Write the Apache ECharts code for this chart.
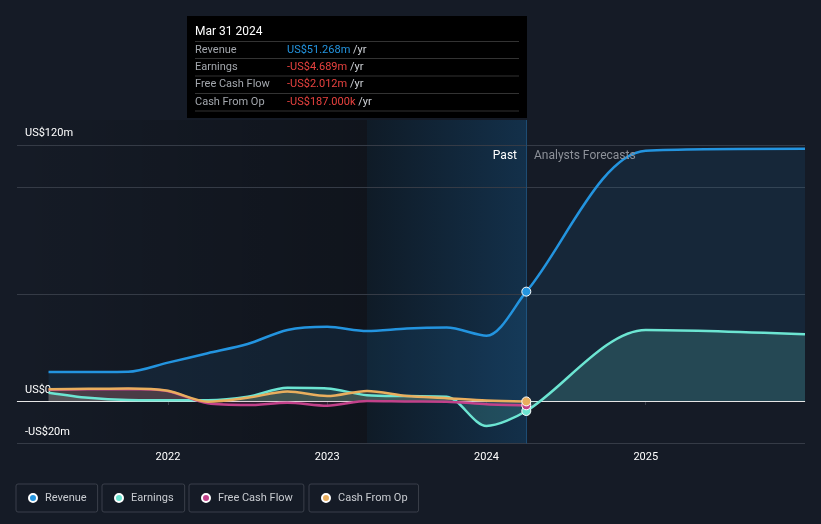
<!DOCTYPE html>
<html>
<head>
<meta charset="utf-8">
<script src="https://cdn.jsdelivr.net/npm/echarts@6/dist/echarts.min.js"></script>
<style>
html,body{margin:0;padding:0;background:#151b26;}
#c{width:821px;height:524px;}
</style>
</head>
<body>
<div id="c"></div>
<script>
// Quarter ends (decimal years), past
const pastDates = [2021.25, 2021.5, 2021.75, 2022.0, 2022.25, 2022.5, 2022.75, 2023.0, 2023.25, 2023.5, 2023.75, 2024.0, 2024.25];
// Analyst forecast points
const forecastDates = [2025.0, 2026.0];

const revenue  = [13.6, 13.6, 13.7, 18.0, 22.4, 26.7, 33.3, 34.8, 32.8, 34.0, 34.4, 30.6, 51.268, 117.3, 118.2];
const earnings = [3.9, 1.5, 0.5, 0.4, 0.4, 2.0, 6.2, 5.9, 2.7, 2.3, 2.0, -11.7, -4.689, 33.3, 31.3];
const fcf      = [5.3, 5.5, 5.6, 4.6, -1.1, -1.9, -0.8, -2.2, 0.0, -0.2, -0.3, -1.5, -2.012];
const cfo      = [5.5, 5.7, 5.9, 4.8, -0.3, 1.5, 4.4, 2.3, 4.7, 2.3, 1.3, 0.2, -0.187];

const xTicks = [2022, 2023, 2024, 2025];
const yLabels = {120: 'US$120m', 0: 'US$0', '-20': '-US$20m'};
const yLines = [120, 100, 50, -20];

const xMin = 2021.052, xMax = 2026.0;
const pastStart = 2023.25, pastEnd = 2024.25;

const colors = {rev:'#2394df', earn:'#6ce5d2', fcf:'#c2418a', cfo:'#e9ae5e'};

const allDates = pastDates.concat(forecastDates);
function build(vals){
  return vals.map((v,i)=>{
    const d = allDates[i];
    if (d === pastEnd) return {value:[d,v], symbol:'circle', symbolSize:9};
    return {value:[d,v], symbol:'none'};
  });
}

const font = 'Roboto, "Noto Sans", sans-serif';

const chart = echarts.init(document.getElementById('c'), null, {renderer:'canvas'});

function lineSeries(name, vals, color, areaAlpha){
  return {
    name, type:'line', data: build(vals), smooth:0.3,
    showSymbol:true, showAllSymbol:true,
    lineStyle:{color, width:2.5},
    itemStyle:{color, borderColor:'#ffffff', borderWidth:1},
    areaStyle:{color, opacity:areaAlpha, origin:0},
    emphasis:{disabled:true}, z:3
  };
}

const labelStyle = {color:'#ffffff', fontSize:11, fontFamily:font};

const seriesRev = lineSeries('Revenue', revenue, colors.rev, 0.1);
seriesRev.markLine = {
  silent:true, symbol:'none', z:1,
  data: yLines.map(v=>({
    yAxis:v,
    lineStyle:{color:'#353b46', width:1, type:'solid'},
    label: yLabels[v] ? Object.assign({show:true, formatter:yLabels[v], position:'insideStartTop', distance:[8,6]}, labelStyle) : {show:false}
  })).concat([
    {yAxis:0, lineStyle:{color:'#e6e6e6', width:1, type:'solid'},
     label:Object.assign({show:true, formatter:yLabels[0], position:'insideStartTop', distance:[8,5]}, labelStyle)},
    {xAxis:pastEnd, lineStyle:{color:'#1d4c73', width:1, type:'solid'}, label:{show:false}}
  ])
};
seriesRev.markArea = {
  silent:true, z:0,
  data:[
    [{xAxis:xMin, itemStyle:{color:new echarts.graphic.LinearGradient(0,0,1,0,[
        {offset:0, color:'rgba(0,0,0,0)'},
        {offset:1, color:'rgba(0,0,0,0.26)'}
      ])}}, {xAxis:pastStart}],
    [{xAxis:pastStart, itemStyle:{color:new echarts.graphic.LinearGradient(0,0,1,0,[
        {offset:0, color:'#0f1b27'},
        {offset:1, color:'#13304a'}
      ])}}, {xAxis:pastEnd}]
  ]
};

const option = {
  backgroundColor:'#151b26',
  animation:false,
  textStyle:{fontFamily:font},
  grid:{left:17, right:16, top:120, height:323.67, containLabel:false},
  xAxis:{
    type:'value', min:xMin, max:xMax,
    axisLine:{show:true, lineStyle:{color:'#3a404b', width:1}},
    axisTick:{show:true, customValues:xTicks, length:4, lineStyle:{color:'#3a404b'}},
    axisLabel:{show:true, customValues:xTicks, formatter:v=>String(Math.round(v)), color:'#ffffff', fontSize:11, margin:8, fontFamily:font},
    splitLine:{show:false}
  },
  yAxis:{
    type:'value', min:-20, max:131.72,
    axisLine:{show:false}, axisTick:{show:false}, axisLabel:{show:false}, splitLine:{show:false}
  },
  legend: [
    {name:'Revenue', left:16},
    {name:'Earnings', left:102},
    {name:'Free Cash Flow', left:189},
    {name:'Cash From Op', left:309}
  ].map(l=>({
    data:[l.name], left:l.left, top:484, orient:'horizontal',
    icon:'circle', itemWidth:8, itemHeight:8, itemGap:0,
    padding:[7,11,7,12], borderColor:'#3a3f4a', borderWidth:1, borderRadius:2,
    textStyle:{color:'#c9ccd1', fontSize:11, fontFamily:font, padding:[0,0,0,3], lineHeight:14},
    selectedMode:false
  })),
  series:[
    seriesRev,
    lineSeries('Earnings', earnings, colors.earn, 0.18),
    lineSeries('Free Cash Flow', fcf, colors.fcf, 0.15),
    lineSeries('Cash From Op', cfo, colors.cfo, 0.15)
  ],
  graphic:[
    {type:'text', z:100, style:{x:517, y:156, text:'Past', fill:'#ffffff', font:'12px '+font, textAlign:'right', textVerticalAlign:'middle'}},
    {type:'text', z:100, style:{x:534, y:156, text:'Analysts Forecasts', fill:'#8d9199', font:'12px '+font, textAlign:'left', textVerticalAlign:'middle'}},
    {type:'group', z:100, children:[
      {type:'rect', shape:{x:187, y:16, width:340, height:102}, style:{fill:'#000000'}},
      {type:'text', style:{x:195, y:32, text:'Mar 31 2024', fill:'#ffffff', font:'12px '+font, textVerticalAlign:'middle'}},
      ...[41.5, 58.5, 76, 93.5, 111].map(y=>({type:'line', shape:{x1:195, y1:y, x2:519, y2:y}, style:{stroke:'#333333', lineWidth:1}})),
      ...[
        ['Revenue', 'US$51.268m', '#2394df', 50],
        ['Earnings', '-US$4.689m', '#e8423f', 67],
        ['Free Cash Flow', '-US$2.012m', '#e8423f', 84.5],
        ['Cash From Op', '-US$187.000k', '#e8423f', 102]
      ].flatMap(r=>[
        {type:'text', style:{x:195, y:r[3], text:r[0], fill:'#a3a7ad', font:'11px '+font, textVerticalAlign:'middle'}},
        {type:'text', style:{x:287, y:r[3], text:'{v|'+r[1]+'} {u|/yr}', fill:r[2], font:'11px '+font, textVerticalAlign:'middle',
          rich:{v:{fill:r[2], fontSize:11, fontFamily:font}, u:{fill:'#d0d3d8', fontSize:11, fontFamily:font}}}}
      ])
    ]}
  ]
};
chart.setOption(option);
</script>
</body>
</html>
